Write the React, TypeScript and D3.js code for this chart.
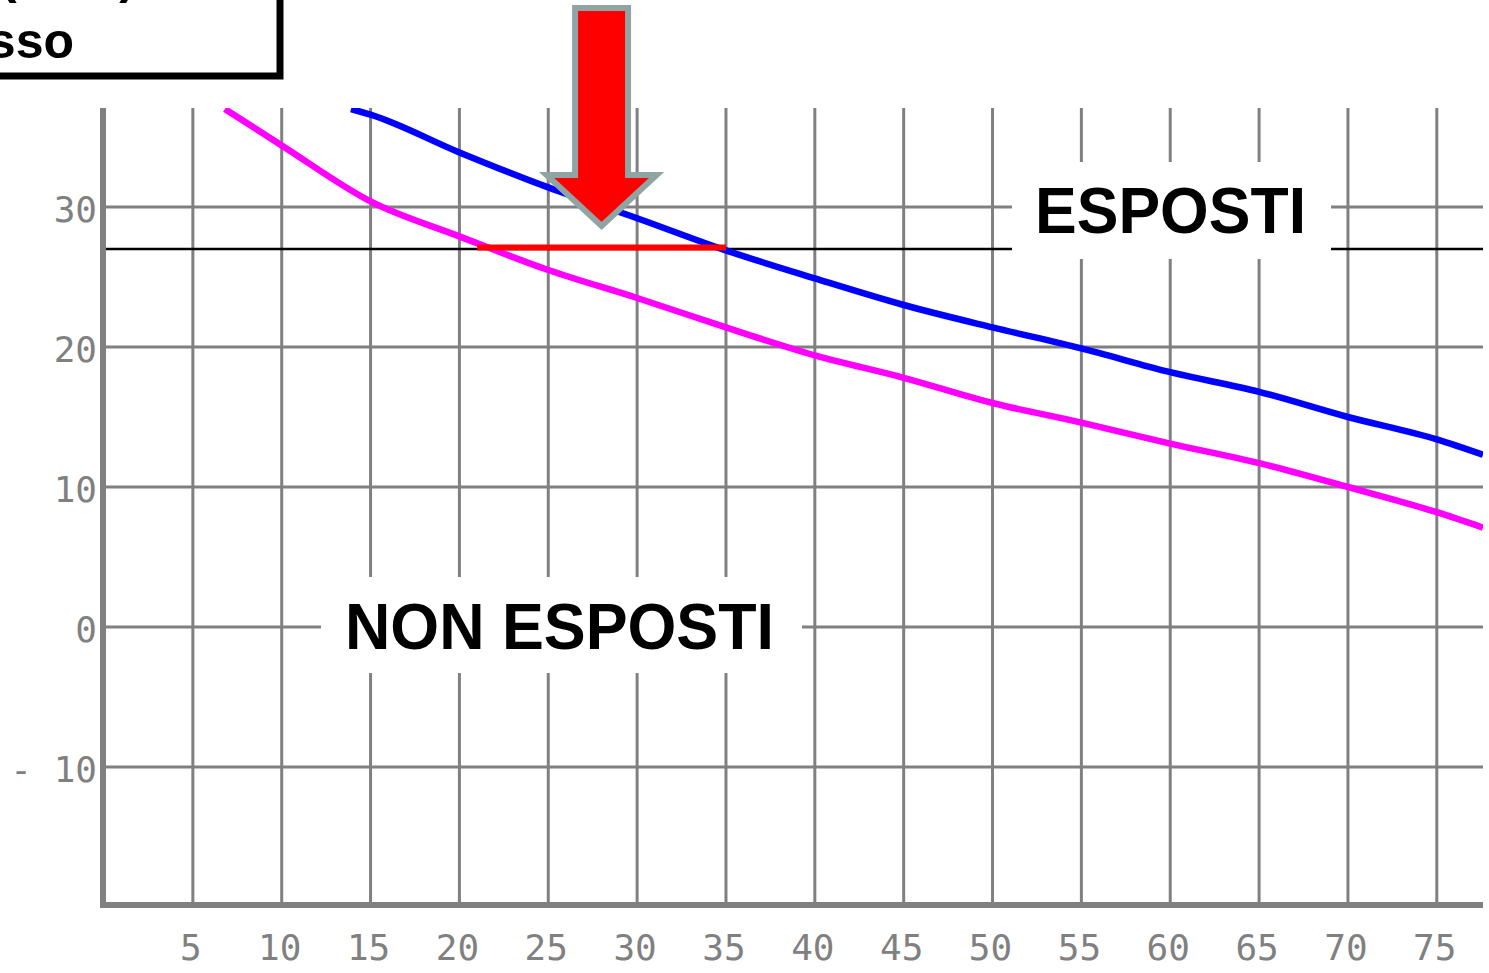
import React from "react";
import * as d3 from "d3";

// età (asse x) e valori
const espostiX = [13.9, 15, 20, 25, 30, 35, 40, 45, 50, 55, 60, 65, 70, 75, 77.6];
const espostiY = [37, 36.6, 33.9, 31.4, 29.2, 26.9, 24.9, 23.0, 21.4, 19.9, 18.2, 16.8, 15.0, 13.4, 12.3];
const nonEspostiX = [6.8, 10, 15, 20, 25, 30, 35, 40, 45, 50, 55, 60, 65, 70, 75, 77.6];
const nonEspostiY = [37, 34.4, 30.4, 27.9, 25.5, 23.5, 21.4, 19.4, 17.8, 16.0, 14.6, 13.1, 11.7, 10.0, 8.2, 7.1];

const xTicks = [5, 10, 15, 20, 25, 30, 35, 40, 45, 50, 55, 60, 65, 70, 75];
const yTicks = [-10, 0, 10, 20, 30];
const yTickLabels = ["- 10", "0", "10", "20", "30"];

const soglia = 27; // linea orizzontale di riferimento
const segmento = [21, 35]; // differenza evidenziata in rosso
const freccia = 28;

const W = 1489;
const H = 973;

const App: React.FC = () => {
  const x = d3.scaleLinear().domain([0, 77.6]).range([104, 1483]);
  const y = d3.scaleLinear().domain([-20, 37]).range([907, 109]);
  const top = 108;
  const bottom = 905;
  const left = 103;
  const right = 1483;
  const grey = "#808080";

  const line = d3
    .line<[number, number]>()
    .x(d => x(d[0]))
    .y(d => y(d[1]))
    .curve(d3.curveMonotoneX);

  const esposti = espostiX.map((v, i) => [v, espostiY[i]] as [number, number]);
  const nonEsposti = nonEspostiX.map((v, i) => [v, nonEspostiY[i]] as [number, number]);

  const ax = x(freccia);
  const arrow = [
    [ax - 26.5, 8],
    [ax + 26.5, 8],
    [ax + 26.5, 175],
    [ax + 55, 175],
    [ax, 226],
    [ax - 55, 175],
    [ax - 26.5, 175],
  ]
    .map(p => p.join(","))
    .join(" ");

  const mono = "'DejaVu Sans Mono', 'Liberation Mono', monospace";
  const sans = "'Liberation Sans', Arial, sans-serif";

  return (
    <div style={{ position: "absolute", left: 0, top: 0, width: W, height: H, background: "#fff" }}>
      <svg width={W} height={H} style={{ display: "block" }}>
        <defs>
          <clipPath id="plot">
            <rect x={left} y={top} width={right - left} height={bottom - top} />
          </clipPath>
        </defs>

        {/* griglia */}
        {yTicks.map(t => (
          <line key={"h" + t} x1={left} x2={right} y1={y(t)} y2={y(t)} stroke={grey} strokeWidth={3} />
        ))}
        {xTicks.map(t => (
          <line key={"v" + t} x1={x(t)} x2={x(t)} y1={top} y2={bottom} stroke={grey} strokeWidth={3} />
        ))}

        {/* linea di soglia */}
        <line x1={left} x2={right} y1={y(soglia)} y2={y(soglia)} stroke="#000" strokeWidth={2.5} />

        {/* etichette con sfondo bianco */}
        <rect x={1012} y={162} width={319} height={97} fill="#fff" />
        <text x={1035} y={233} fontFamily={sans} fontWeight="bold" fontSize={64} textLength={271} lengthAdjust="spacingAndGlyphs">
          ESPOSTI
        </text>
        <rect x={321} y={577} width={481} height={96} fill="#fff" />
        <text x={345} y={649} fontFamily={sans} fontWeight="bold" fontSize={65} textLength={429} lengthAdjust="spacingAndGlyphs">
          NON ESPOSTI
        </text>

        {/* assi */}
        <line x1={left} x2={left} y1={top} y2={bottom + 3} stroke={grey} strokeWidth={6} />
        <line x1={left - 3} x2={right} y1={bottom} y2={bottom} stroke={grey} strokeWidth={6} />

        {yTicks.map((t, i) => (
          <text key={"yl" + t} x={97} y={y(t) + 15} textAnchor="end" fontFamily={mono} fontSize={36} fill={grey}>
            {yTickLabels[i]}
          </text>
        ))}
        {xTicks.map(t => (
          <text key={"xl" + t} x={x(t) - 2} y={960} textAnchor="middle" fontFamily={mono} fontSize={36} fill={grey}>
            {t}
          </text>
        ))}

        {/* curve */}
        <g clipPath="url(#plot)">
          <path d={line(nonEsposti) ?? ""} fill="none" stroke="#ff00ff" strokeWidth={6.5} />
          <path d={line(esposti) ?? ""} fill="none" stroke="#0000ff" strokeWidth={6.5} />
        </g>

        {/* differenza */}
        <line
          x1={x(segmento[0])}
          x2={x(segmento[1])}
          y1={y(soglia) - 1.5}
          y2={y(soglia) - 1.5}
          stroke="#ff0000"
          strokeWidth={6}
        />

        {/* freccia */}
        <polygon points={arrow} fill="#ff0000" stroke="#90a4a4" strokeWidth={6} strokeLinejoin="miter" />

        {/* riquadro in alto a sinistra */}
        <rect x={-20} y={-20} width={300} height={96} fill="#fff" stroke="#000" strokeWidth={7} />
        <text x={136} y={-7} textAnchor="end" fontFamily={sans} fontWeight="bold" fontSize={50}>
          Età (anni)
        </text>
        <text x={74} y={58} textAnchor="end" fontFamily={sans} fontWeight="bold" fontSize={50}>
          al decesso
        </text>
      </svg>
    </div>
  );
};

export default App;
